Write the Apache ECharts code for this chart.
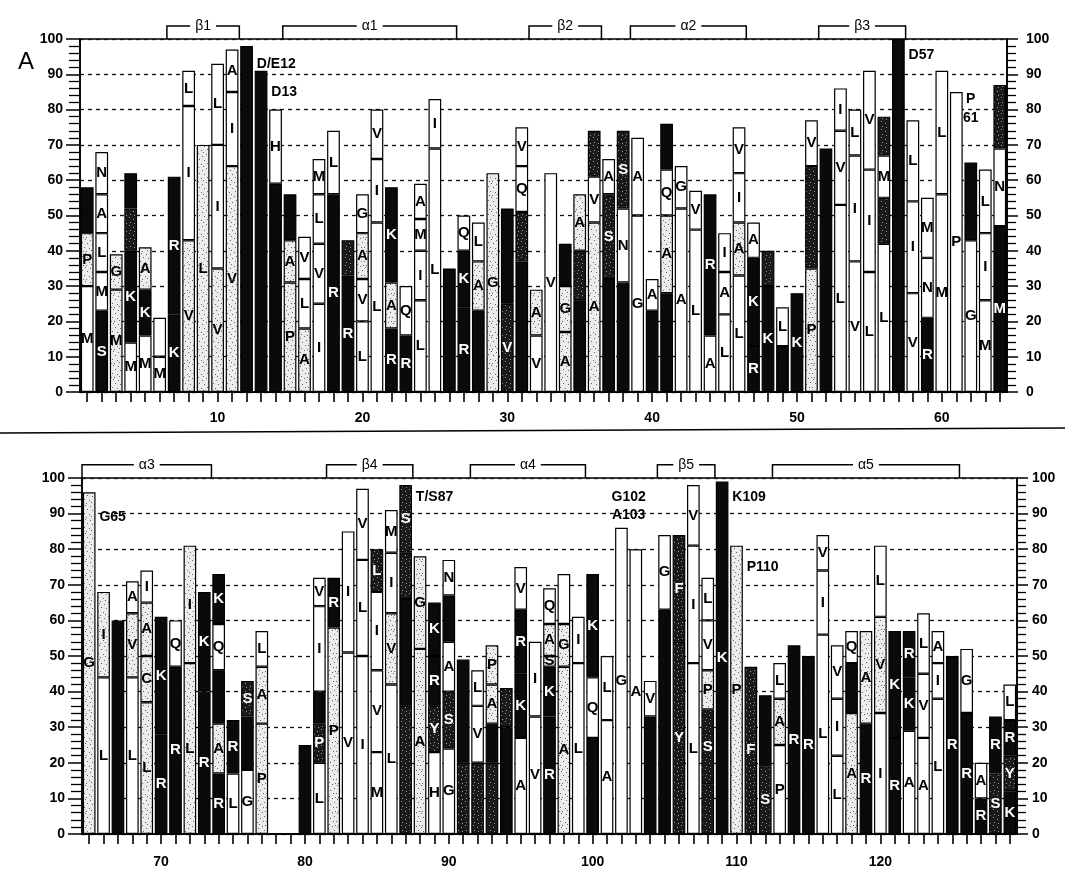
<!DOCTYPE html>
<html><head><meta charset="utf-8">
<script src="https://cdn.jsdelivr.net/npm/echarts@6/dist/echarts.min.js"></script>
<style>html,body{margin:0;padding:0;background:#fff}#c{width:1065px;height:869px}</style>
</head><body><div id="c"></div>
<script>
// ---------- DATA ----------
const topPositions = [1,2,3,4,5,6,7,8,9,10,11,12,13,14,15,16,17,18,19,20,21,22,23,24,25,26,27,28,29,30,31,32,33,34,35,36,37,38,39,40,41,42,43,44,45,46,47,48,49,50,51,52,53,54,55,56,57,58,59,60,61,62,63,64];
// each bar: list of [residue letter, class, cumulative top %]; class W white, S stippled, D dark dotted, B black
const topSegments = [
 [['M','W',30],['P','S',45],['','B',58]],
 [['S','B',23],['M','W',34],['L','W',45],['A','W',56],['N','W',68]],
 [['M','S',29],['G','S',39]],
 [['M','W',14],['K','B',40],['','D',52],['','B',62]],
 [['M','W',16],['K','B',29],['A','S',41]],
 [['M','W',10],['','W',21]],
 [['K','B',22],['R','B',61]],
 [['V','S',43],['I','W',81],['L','W',91]],
 [['L','S',70]],
 [['V','S',35],['I','W',70],['L','W',93]],
 [['V','S',64],['I','W',85],['A','W',97]],
 [['','B',98]],
 [['','B',91]],
 [['','B',59],['H','W',80]],
 [['P','S',31],['A','S',43],['','B',56]],
 [['A','S',18],['L','W',32],['V','W',44]],
 [['I','W',25],['V','W',42],['L','W',56],['M','W',66]],
 [['R','B',56],['L','W',74]],
 [['R','B',33],['','D',43]],
 [['L','W',20],['V','W',32],['A','S',45],['G','W',56]],
 [['L','W',48],['I','W',66],['V','W',80]],
 [['R','B',18],['A','S',31],['K','B',58]],
 [['R','B',16],['Q','W',30]],
 [['L','W',26],['I','W',40],['M','W',49],['A','W',59]],
 [['L','W',69],['I','W',83]],
 [['','B',35]],
 [['R','B',24],['K','B',40],['Q','W',50]],
 [['','B',23],['A','S',37],['L','W',48]],
 [['G','S',62]],
 [['V','D',25],['','B',52]],
 [['','B',37],['','D',51],['Q','W',64],['V','W',75]],
 [['V','W',16],['A','S',29]],
 [['V','W',62]],
 [['A','S',17],['G','S',30],['','B',42]],
 [['','B',26],['','D',40],['A','S',56]],
 [['A','S',48],['V','W',61],['','D',74]],
 [['','B',32],['S','D',56],['A','W',66]],
 [['','B',31],['N','W',52],['S','D',74]],
 [['G','W',50],['A','W',72]],
 [['','B',23],['A','W',32]],
 [['','B',28],['A','S',50],['Q','W',63],['','B',76]],
 [['A','W',52],['G','W',64]],
 [['L','W',46],['V','W',57]],
 [['A','W',16],['R','B',56]],
 [['L','W',22],['A','W',34],['I','W',45]],
 [['L','W',33],['A','S',48],['I','W',62],['V','W',75]],
 [['R','B',13],['K','B',38],['A','W',48]],
 [['K','B',30],['','D',40]],
 [['','B',13],['L','W',24]],
 [['K','B',28]],
 [['P','S',35],['','D',64],['V','W',77]],
 [['','B',69]],
 [['L','W',53],['V','W',74],['I','W',86]],
 [['V','W',37],['I','W',67],['L','W',80]],
 [['L','W',34],['I','W',63],['V','W',91]],
 [['L','W',42],['','D',55],['M','W',67],['','D',78]],
 [['','B',100]],
 [['V','W',28],['I','W',54],['L','W',77]],
 [['R','B',21],['N','W',38],['M','W',55]],
 [['M','W',56],['L','W',91]],
 [['P','W',85]],
 [['G','W',43],['','B',65]],
 [['M','W',26],['I','W',45],['L','W',63]],
 [['M','B',47],['N','W',69],['','D',87]]
];
const bottomPositions = [65,66,67,68,69,70,71,72,73,74,75,76,77,78,79,80,81,82,83,84,85,86,87,88,89,90,91,92,93,94,95,96,97,98,99,100,101,102,103,104,105,106,107,108,109,110,111,112,113,114,115,116,117,118,119,120,121,122,123,124,125,126,127,128,129];
const bottomSegments = [
 [['G','S',96]],
 [['L','W',44],['I','S',68]],
 [['','B',60]],
 [['L','W',44],['V','S',62],['A','W',71]],
 [['L','S',37],['C','S',50],['A','S',65],['I','W',74]],
 [['R','B',28],['K','B',61]],
 [['R','B',47],['Q','W',60]],
 [['L','S',48],['I','S',81]],
 [['R','B',40],['K','B',68]],
 [['R','B',17],['A','S',31],['','B',46],['Q','W',59],['K','B',73]],
 [['L','W',17],['R','B',32]],
 [['G','W',18],['','B',33],['S','D',43]],
 [['P','S',31],['A','S',47],['L','W',57]],
 [],
 [],
 [['','B',25]],
 [['L','W',20],['P','D',31],['','B',40],['I','W',64],['V','W',72]],
 [['P','S',58],['R','B',72]],
 [['V','W',51],['I','W',85]],
 [['I','W',50],['L','W',77],['V','W',97]],
 [['M','W',23],['V','W',46],['I','W',68],['L','D',80]],
 [['L','W',42],['V','S',62],['I','W',79],['M','W',91]],
 [['','D',36],['','B',66],['','D',79],['S','D',98]],
 [['A','S',52],['G','S',78]],
 [['H','W',23],['Y','D',36],['R','B',50],['K','B',65]],
 [['G','W',24],['S','D',40],['A','W',54],['','B',67],['N','W',77]],
 [['','D',20],['','B',49]],
 [['','D',20],['V','W',36],['L','W',46]],
 [['','D',20],['','B',31],['A','S',42],['P','S',53]],
 [['','B',30],['','D',41]],
 [['A','W',27],['K','B',45],['R','B',63],['V','W',75]],
 [['V','W',33],['I','W',54]],
 [['R','B',33],['K','B',47],['S','S',50],['A','S',59],['Q','W',69]],
 [['A','S',47],['G','S',59],['','W',73]],
 [['L','W',48],['I','W',61]],
 [['','B',27],['Q','W',44],['K','B',73]],
 [['A','W',32],['L','W',50]],
 [['G','W',86]],
 [['A','W',80]],
 [['','B',33],['V','W',43]],
 [['','B',63],['G','W',84]],
 [['Y','D',54],['F','D',84]],
 [['L','W',48],['I','W',81],['V','W',98]],
 [['','D',14],['S','D',35],['P','S',46],['V','W',60],['L','W',72]],
 [['K','B',99]],
 [['P','S',81]],
 [['F','D',47]],
 [['S','D',19],['','B',39]],
 [['P','W',25],['A','S',38],['L','W',48]],
 [['R','B',53]],
 [['R','B',50]],
 [['L','W',56],['I','W',74],['V','W',84]],
 [['L','W',22],['I','W',38],['V','W',53]],
 [['A','S',34],['','B',48],['Q','W',57]],
 [['R','B',31],['A','S',57]],
 [['I','W',34],['V','S',61],['L','W',81]],
 [['R','B',27],['K','B',57]],
 [['A','W',29],['K','B',44],['R','B',57]],
 [['A','W',27],['V','W',45],['L','W',62]],
 [['L','W',38],['I','W',48],['A','W',57]],
 [['R','B',50]],
 [['R','B',34],['G','W',52]],
 [['R','B',10],['A','W',20]],
 [['S','D',17],['R','B',33]],
 [['K','B',12],['Y','D',22],['R','B',32],['L','W',42]]
];
// secondary structure brackets: [name, first residue, last residue]
const topStructures = [['β1',7,11],['α1',15,26],['β2',32,36],['α2',39,46],['β3',52,57]];
const bottomStructures = [['α3',65,73],['β4',82,87],['α4',92,99],['β5',105,108],['α5',113,125]];
// annotations: [text, residue, level %, anchor]
const topNotes = [['D/E12',12,93,'R'],['D13',13,85,'R'],['D57',57,95.5,'R'],['P',62,83,'C'],['61',62,77.5,'C']];
const bottomNotes = [['G65',65,89,'R'],['T/S87',87,94.5,'R'],['G102',102,94.5,'E'],['A103',102,89.5,'E'],['K109',109,94.5,'R'],['P110',110,75,'R']];
const yTickLabels = [0,10,20,30,40,50,60,70,80,90,100];

// ---------- STYLE ----------
const FONT = '"Liberation Sans", Arial, Helvetica, sans-serif';
function makePattern(bg, dotColor, dots, size) {
  const c = document.createElement('canvas');
  c.width = size; c.height = size;
  const g = c.getContext('2d');
  g.fillStyle = bg; g.fillRect(0,0,size,size);
  g.fillStyle = dotColor;
  dots.forEach(d => g.fillRect(d[0], d[1], 1, 1));
  return {image: c, repeat: 'repeat'};
}
const stipple = makePattern('#ececec', '#666', [[1,1],[6,2],[10,0],[3,5],[8,6],[12,4],[0,9],[5,10],[11,9],[2,13],[7,12],[13,13]], 14);
const darkDots = makePattern('#1a1a1a', '#9a9a9a', [[1,1],[5,3],[2,6],[6,7]], 8);
const CLS = {
  W: {fill: '#ffffff', text: '#000'},
  S: {fill: stipple, text: '#000'},
  D: {fill: darkDots, text: '#fff'},
  B: {fill: '#0a0a0a', text: '#fff'}
};

function barSeries(segments, xi, yi, stack) {
  const layers = Math.max(...segments.map(s => s.length));
  const out = [];
  for (let k = 0; k < layers; k++) {
    out.push({
      type: 'bar', xAxisIndex: xi, yAxisIndex: yi, stack: stack, barWidth: '88%',
      itemStyle: {borderColor: '#000', borderWidth: 1.2},
      label: {show: true, position: 'inside', fontSize: 15, fontWeight: 'bold', fontFamily: FONT},
      data: segments.map(segs => {
        const s = segs[k];
        if (!s) return '-';
        const prev = k > 0 ? segs[k-1][2] : 0;
        const c = CLS[s[1]];
        return {
          value: s[2] - prev,
          itemStyle: {color: c.fill},
          label: s[0] ? {show: true, formatter: s[0], color: c.text} : {show: false}
        };
      })
    });
  }
  return out;
}

function bracketSeries(structs, cats, xi, yi) {
  return {
    type: 'custom', xAxisIndex: xi, yAxisIndex: yi, clip: false, silent: true, z: 20,
    data: structs.map(s => [cats.indexOf(s[1]), 100]),
    renderItem(params, api) {
      const s = structs[params.dataIndex];
      const band = api.size([1, 0])[0];
      const a = api.coord([cats.indexOf(s[1]), 100]);
      const b = api.coord([cats.indexOf(s[2]), 100]);
      const top = api.coord([cats.indexOf(s[1]), 103.7])[1];
      const x0 = a[0] - band / 2, x1 = b[0] + band / 2, yb = a[1];
      return {type: 'group', children: [
        {type: 'polyline', shape: {points: [[x0, yb], [x0, top], [x1, top], [x1, yb]]},
         style: {stroke: '#000', lineWidth: 1.5, fill: null}},
        {type: 'text', x: (x0 + x1) / 2, y: top,
         style: {text: s[0], fill: '#000', font: '14px ' + FONT, align: 'center', verticalAlign: 'middle',
                 backgroundColor: '#fff', padding: [0, 5]}}
      ]};
    }
  };
}

function noteSeries(notes, cats, xi, yi) {
  return {
    type: 'custom', xAxisIndex: xi, yAxisIndex: yi, clip: false, silent: true, z: 30,
    data: notes.map(n => [cats.indexOf(n[1]), n[2]]),
    renderItem(params, api) {
      const n = notes[params.dataIndex];
      const p = api.coord([api.value(0), api.value(1)]);
      const band = api.size([1, 0])[0];
      let x = p[0], align = 'center';
      if (n[3] === 'R') { x = p[0] + band / 2 + 3; align = 'left'; }
      else if (n[3] === 'E') { x = p[0] + band / 2; }
      return {type: 'text', x: x, y: p[1],
        style: {text: n[0], fill: '#000', font: 'bold 14px ' + FONT, align: align, verticalAlign: 'middle'}};
    }
  };
}

function xAxisFor(cats, gi, margin) {
  return {
    type: 'category', gridIndex: gi, data: cats.map(String),
    axisLine: {lineStyle: {color: '#000', width: 2}},
    axisTick: {show: true, alignWithLabel: true, interval: 0, length: 10, lineStyle: {color: '#000', width: 1.6}},
    axisLabel: {interval: (i, v) => Number(v) % 10 === 0, margin: margin, color: '#000',
                fontSize: 14, fontWeight: 'bold', fontFamily: FONT},
    splitLine: {show: false}
  };
}
function yAxisFor(gi, pos, margin) {
  return {
    type: 'value', gridIndex: gi, position: pos, min: 0, max: 100, interval: 10,
    axisLine: {show: true, lineStyle: {color: '#000', width: 1.6}},
    axisTick: {show: true, length: pos === 'left' ? 14 : 11, lineStyle: {color: '#000', width: 1.5}},
    minorTick: {show: true, splitNumber: 5, length: pos === 'left' ? 11 : 9, lineStyle: {color: '#000', width: 1.3}},
    axisLabel: {margin: margin, color: '#000', fontSize: 14, fontWeight: 'bold', fontFamily: FONT,
                formatter: v => yTickLabels.includes(v) ? String(v) : ''},
    splitLine: {show: pos === 'left', lineStyle: {type: [4, 4], color: '#111', width: 1.3}}
  };
}

const chart = echarts.init(document.getElementById('c'), null, {renderer: 'canvas'});
chart.setOption({
  animation: false,
  backgroundColor: '#fff',
  grid: [
    {left: 80, top: 39, width: 927, height: 353, show: true, borderColor: '#000', borderWidth: 1.6, backgroundColor: 'rgba(0,0,0,0)'},
    {left: 82, top: 478, width: 935, height: 356, show: true, borderColor: '#000', borderWidth: 1.6, backgroundColor: 'rgba(0,0,0,0)'}
  ],
  xAxis: [xAxisFor(topPositions, 0, 19), xAxisFor(bottomPositions, 1, 21)],
  yAxis: [yAxisFor(0, 'left', 17), yAxisFor(0, 'right', 19), yAxisFor(1, 'left', 17), yAxisFor(1, 'right', 15)],
  series: [].concat(
    barSeries(topSegments, 0, 0, 'top'),
    barSeries(bottomSegments, 1, 2, 'bottom'),
    [bracketSeries(topStructures, topPositions, 0, 0),
     bracketSeries(bottomStructures, bottomPositions, 1, 2),
     noteSeries(topNotes, topPositions, 0, 0),
     noteSeries(bottomNotes, bottomPositions, 1, 2)]
  ),
  graphic: [
    {type: 'text', left: 18, top: 50, style: {text: 'A', font: '24px ' + FONT, fill: '#000'}},
    {type: 'line', shape: {x1: 0, y1: 433, x2: 1065, y2: 428}, style: {stroke: '#000', lineWidth: 1.4}}
  ]
});
</script>
</body></html>
